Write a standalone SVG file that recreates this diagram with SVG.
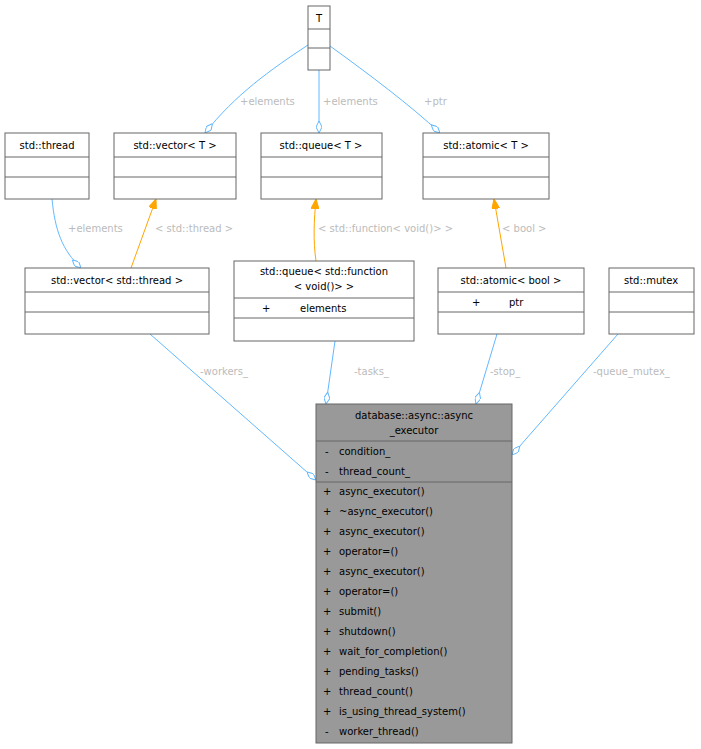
<svg xmlns="http://www.w3.org/2000/svg" width="701" height="749" viewBox="0 0 701 749">
<style>
text{font-family:"DejaVu Sans","Liberation Sans",sans-serif;font-size:10px;fill:#000}
.b{fill:#fff;stroke:#666;stroke-width:1}
.m{fill:#999;stroke:#666;stroke-width:1}
.l{stroke:#666;stroke-width:1}
.e{fill:none;stroke:#63b8ff;stroke-width:1}
.o{fill:none;stroke:#ffa500;stroke-width:1}
.lb{fill:#bbb}
</style>
<defs>
<marker id="d" viewBox="0 0 12 6" refX="12" refY="3" markerWidth="12" markerHeight="6" orient="auto" markerUnits="userSpaceOnUse"><path d="M0,3 L6,0 L12,3 L6,6 Z" fill="#fff" stroke="#63b8ff"/></marker>
<marker id="a" viewBox="0 0 10 8" refX="10" refY="4" markerWidth="10" markerHeight="8" orient="auto" markerUnits="userSpaceOnUse"><path d="M0,0 L10,4 L0,8 Z" fill="#ffa500" stroke="#ffa500"/></marker>
</defs>
<g id="connectors">
<path class="e" d="M308,45 C270,70 235,95 205,133" marker-end="url(#d)"/>
<path class="e" d="M319,70 L319,133" marker-end="url(#d)"/>
<path class="e" d="M330,46 C370,75 410,105 440,133" marker-end="url(#d)"/>
<path class="e" d="M52,199 C55,230 62,250 81,268" marker-end="url(#d)"/>
<path class="o" d="M131,268 L156,199" marker-end="url(#a)"/>
<path class="o" d="M316,261 C313,240 314,220 316,199" marker-end="url(#a)"/>
<path class="o" d="M506,268 L494,199" marker-end="url(#a)"/>
<path class="e" d="M150,334 L316,480" marker-end="url(#d)"/>
<path class="e" d="M335,341 L326,404" marker-end="url(#d)"/>
<path class="e" d="M497,334 L476,404" marker-end="url(#d)"/>
<path class="e" d="M618,334 L512,455" marker-end="url(#d)"/>
<text class="lb" x="240" y="105">+elements</text>
<text class="lb" x="323" y="105">+elements</text>
<text class="lb" x="424" y="105">+ptr</text>
<text class="lb" x="68" y="232">+elements</text>
<text class="lb" x="155" y="232">&lt; std::thread &gt;</text>
<text class="lb" x="318" y="232">&lt; std::function&lt; void()&gt; &gt;</text>
<text class="lb" x="502" y="232">&lt; bool &gt;</text>
<text class="lb" x="200" y="375">-workers_</text>
<text class="lb" x="354" y="375">-tasks_</text>
<text class="lb" x="490" y="375">-stop_</text>
<text class="lb" x="593" y="375">-queue_mutex_</text>
</g>
<g id="T"><rect class="b" x="308" y="6" width="22" height="64"/><line class="l" x1="308" y1="29" x2="330" y2="29"/><line class="l" x1="308" y1="48" x2="330" y2="48"/><text x="319" y="22" text-anchor="middle">T</text></g>
<g id="thread"><rect class="b" x="5" y="133" width="84" height="66"/><line class="l" x1="5" y1="157" x2="89" y2="157"/><line class="l" x1="5" y1="177" x2="89" y2="177"/><text x="47" y="149" text-anchor="middle">std::thread</text></g>
<g id="vectorT"><rect class="b" x="114" y="133" width="122" height="66"/><line class="l" x1="114" y1="157" x2="236" y2="157"/><line class="l" x1="114" y1="177" x2="236" y2="177"/><text x="175" y="149" text-anchor="middle">std::vector&lt; T &gt;</text></g>
<g id="queueT"><rect class="b" x="261" y="133" width="121" height="66"/><line class="l" x1="261" y1="157" x2="382" y2="157"/><line class="l" x1="261" y1="177" x2="382" y2="177"/><text x="321" y="149" text-anchor="middle">std::queue&lt; T &gt;</text></g>
<g id="atomicT"><rect class="b" x="423" y="133" width="126" height="66"/><line class="l" x1="423" y1="157" x2="549" y2="157"/><line class="l" x1="423" y1="177" x2="549" y2="177"/><text x="486" y="149" text-anchor="middle">std::atomic&lt; T &gt;</text></g>
<g id="vectorThread"><rect class="b" x="25" y="268" width="184" height="66"/><line class="l" x1="25" y1="292" x2="209" y2="292"/><line class="l" x1="25" y1="312" x2="209" y2="312"/><text x="117" y="284" text-anchor="middle">std::vector&lt; std::thread &gt;</text></g>
<g id="queueFn"><rect class="b" x="234" y="261" width="180" height="80"/><line class="l" x1="234" y1="298" x2="414" y2="298"/><line class="l" x1="234" y1="318" x2="414" y2="318"/><text x="324" y="275" text-anchor="middle">std::queue&lt; std::function</text><text x="324" y="290" text-anchor="middle">&lt; void()&gt; &gt;</text><text x="262" y="312">+</text><text x="300" y="312">elements</text></g>
<g id="atomicBool"><rect class="b" x="438" y="268" width="146" height="66"/><line class="l" x1="438" y1="292" x2="584" y2="292"/><line class="l" x1="438" y1="312" x2="584" y2="312"/><text x="511" y="284" text-anchor="middle">std::atomic&lt; bool &gt;</text><text x="472" y="306">+</text><text x="509" y="306">ptr</text></g>
<g id="mutex"><rect class="b" x="609" y="268" width="85" height="66"/><line class="l" x1="609" y1="292" x2="694" y2="292"/><line class="l" x1="609" y1="312" x2="694" y2="312"/><text x="651" y="284" text-anchor="middle">std::mutex</text></g>
<g id="main"><rect class="m" x="316" y="404" width="196" height="339"/><line class="l" x1="316" y1="441" x2="512" y2="441"/><line class="l" x1="316" y1="482" x2="512" y2="482"/>
<text x="414" y="419" text-anchor="middle">database::async::async</text><text x="414" y="434" text-anchor="middle">_executor</text>
<text x="325" y="455">-</text><text x="339" y="455">condition_</text>
<text x="325" y="475">-</text><text x="339" y="475">thread_count_</text>
<text x="323" y="495">+</text><text x="339" y="495">async_executor()</text>
<text x="323" y="515">+</text><text x="339" y="515">~async_executor()</text>
<text x="323" y="535">+</text><text x="339" y="535">async_executor()</text>
<text x="323" y="555">+</text><text x="339" y="555">operator=()</text>
<text x="323" y="575">+</text><text x="339" y="575">async_executor()</text>
<text x="323" y="595">+</text><text x="339" y="595">operator=()</text>
<text x="323" y="615">+</text><text x="339" y="615">submit()</text>
<text x="323" y="635">+</text><text x="339" y="635">shutdown()</text>
<text x="323" y="655">+</text><text x="339" y="655">wait_for_completion()</text>
<text x="323" y="675">+</text><text x="339" y="675">pending_tasks()</text>
<text x="323" y="695">+</text><text x="339" y="695">thread_count()</text>
<text x="323" y="715">+</text><text x="339" y="715">is_using_thread_system()</text>
<text x="325" y="735">-</text><text x="339" y="735">worker_thread()</text>
</g>
</svg>
